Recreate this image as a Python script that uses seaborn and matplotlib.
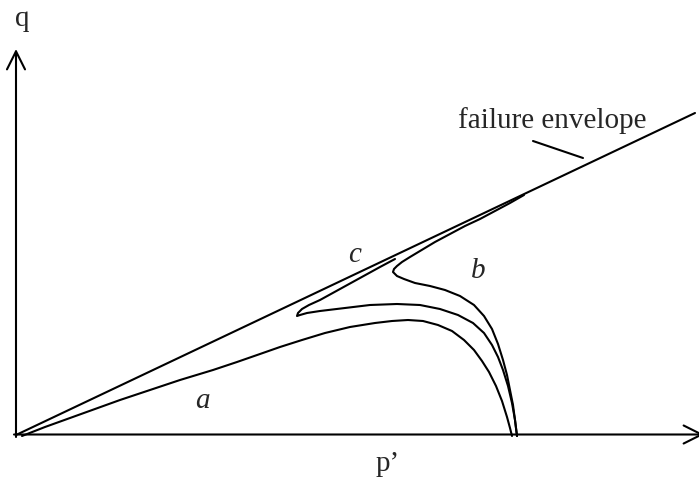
import matplotlib
matplotlib.use("Agg")
import matplotlib.pyplot as plt
import pandas as pd
import seaborn as sns

# Undrained stress paths in the p'-q plane (arbitrary units, origin at p'=0, q=0)
env_p = [0, 679]
env_q = [0, 322]

# path a: contractive, collapses towards the origin
a_p = [496, 494, 491, 486, 480, 473, 466, 458, 448, 436, 422, 407, 392, 376, 359,
       334, 309, 286, 264, 244, 221, 197, 164, 134, 104, 79, 54, 29, 6]
a_q = [-1, 7, 18, 34, 49, 63, 74, 85, 95, 104, 110, 114, 115, 114, 112,
       108, 102, 95, 88, 81, 73, 65, 55, 45, 35, 26, 17, 8, -1]

# path b: phase transformation then dilation up to the envelope
b_p = [501, 499, 497, 494, 491, 487, 482, 476, 468, 458, 444, 429, 414, 399, 388,
       381, 377, 378, 381, 386, 394, 404, 419, 434, 449, 464, 479, 494, 508]
b_q = [-1, 15, 30, 45, 60, 75, 91, 106, 119, 130, 139, 145, 149, 152, 156,
       159, 163, 166, 169, 173, 178, 184, 193, 201, 209, 216, 224, 232, 240]

# path c: limited flow, then dilation along the envelope
c_p = [501, 499, 496, 492, 487, 482, 476, 468, 457, 442, 424, 404, 381, 354, 329,
       304, 291, 284, 281, 282, 286, 293, 304, 324, 344, 364, 379]
c_q = [-1, 15, 32, 49, 65, 78, 90, 102, 112, 120, 126, 130, 131, 130, 127,
       124, 122, 120, 119, 122, 126, 130, 135, 146, 157, 168, 176]

path_names = ["envelope", "a", "b", "c"]
path_labels = ["a", "b", "c"]
label_p = [186, 462, 339]
label_q = [27, 157, 173]

frames = []
for name, ps, qs in zip(path_names, [env_p, a_p, b_p, c_p], [env_q, a_q, b_q, c_q]):
    frames.append(pd.DataFrame({"p": ps, "q": qs, "path": name}))
paths = pd.concat(frames, ignore_index=True)

sns.set_theme(style="white")
plt.rcParams["font.family"] = ["Liberation Serif", "DejaVu Serif"]

fig = plt.figure(figsize=(6.99, 4.99), dpi=100)
ax = fig.add_axes([0, 0, 1, 1])
ax.set_xlim(-16, 683)
ax.set_ylim(-64, 435)
ax.axis("off")

sns.lineplot(data=paths, x="p", y="q", units="path", estimator=None, sort=False,
             color="black", linewidth=1.5, legend=False, ax=ax)

# axes with open arrowheads
arrow = dict(arrowstyle="->,head_length=1.3,head_width=0.65", lw=1.5,
             color="black", shrinkA=0, shrinkB=0, mutation_scale=10)
ax.annotate("", xy=(0, 386), xytext=(0, -2), arrowprops=arrow, annotation_clip=False)
ax.annotate("", xy=(688, 0.5), xytext=(-2, 0.5), arrowprops=arrow, annotation_clip=False)

fs = 21
ax.text(6, 409, "q", fontsize=fs, ha="center", va="baseline")
ax.text(372, -36, "p\u2019", fontsize=fs, ha="center", va="baseline")

ax.text(536, 307, "failure envelope", fontsize=fs, ha="center", va="baseline")
ax.annotate("", xy=(567, 277), xytext=(517, 294),
            arrowprops=dict(arrowstyle="-", lw=1.5, color="black", shrinkA=0, shrinkB=0))

for lab, lp, lq in zip(path_labels, label_p, label_q):
    ax.text(lp, lq, lab, fontsize=fs, style="italic", ha="center", va="baseline")

fig.savefig("out.png", dpi=100)
